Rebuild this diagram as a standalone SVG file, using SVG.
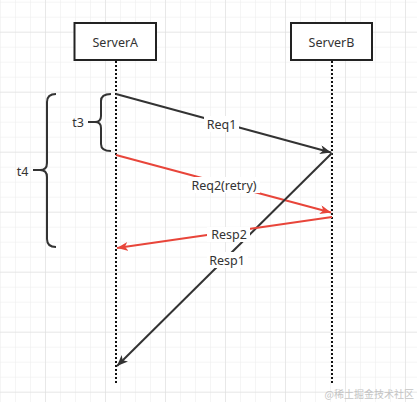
<svg xmlns="http://www.w3.org/2000/svg" width="417" height="402" viewBox="0 0 417 402">
<style>
  .box{fill:#fff;stroke:#222;stroke-width:2}
  .lbl{font-family:"Noto Sans","Liberation Sans",sans-serif;font-size:12.5px;fill:#333;text-anchor:middle;dominant-baseline:central}
  .life{stroke:#111;stroke-width:2;stroke-dasharray:2 2;fill:none}
  .blk{stroke:#333;stroke-width:2;fill:none}
  .red{stroke:#e8453a;stroke-width:2;fill:none}
  .brace{stroke:#333;stroke-width:2;fill:none}
  .bg{fill:#fff}
</style>
<defs>
  <pattern id="minor" width="15" height="15" patternUnits="userSpaceOnUse" x="0" y="1.7">
    <path d="M0,0 H15 M0,0 V15" stroke="#ececec" stroke-width="1" fill="none"/>
  </pattern>
  <pattern id="major" width="60" height="60" patternUnits="userSpaceOnUse" x="45" y="31.7">
    <path d="M0,0 H60 M0,0 V60" stroke="#dcdcdc" stroke-width="1" fill="none"/>
  </pattern>
  <marker id="ahB" markerWidth="12" markerHeight="10" refX="11" refY="4.5" orient="auto" markerUnits="userSpaceOnUse">
    <path d="M0,0 L11,4.5 L0,9 L3,4.5 Z" fill="#333"/>
  </marker>
  <marker id="ahR" markerWidth="12" markerHeight="10" refX="11" refY="4.5" orient="auto" markerUnits="userSpaceOnUse">
    <path d="M0,0 L11,4.5 L0,9 L3,4.5 Z" fill="#e8453a"/>
  </marker>
</defs>
<rect width="417" height="402" fill="#fff"/>
<rect width="417" height="402" fill="url(#minor)"/>
<rect width="417" height="402" fill="url(#major)"/>

<g id="serverA">
  <line class="life" x1="116" y1="61" x2="116" y2="383"/>
  <rect class="box" x="74.5" y="23" width="81.5" height="37"/>
  <text class="lbl" x="115.3" y="42">ServerA</text>
</g>
<g id="serverB">
  <line class="life" x1="332" y1="61" x2="332" y2="383"/>
  <rect class="box" x="291" y="23" width="81" height="37"/>
  <text class="lbl" x="331.5" y="42">ServerB</text>
</g>

<g id="connectors">
  <line class="blk" x1="116" y1="94" x2="331" y2="152.5" marker-end="url(#ahB)"/>
  <line class="red" x1="116" y1="155" x2="331" y2="212.5" marker-end="url(#ahR)"/>
  <line class="blk" x1="332" y1="153" x2="117" y2="366" marker-end="url(#ahB)"/>
  <line class="red" x1="332" y1="217" x2="117" y2="248" marker-end="url(#ahR)"/>
  <rect class="bg" x="204" y="116" width="35" height="16"/>
  <text class="lbl" x="221.5" y="124">Req1</text>
  <rect class="bg" x="188" y="177" width="72" height="16"/>
  <text class="lbl" x="224" y="185">Req2(retry)</text>
  <rect class="bg" x="207" y="227" width="43" height="15"/>
  <text class="lbl" x="229" y="234.5">Resp2</text>
  <rect class="bg" x="207" y="252" width="41" height="16"/>
  <text class="lbl" x="227" y="260">Resp1</text>
</g>

<g id="t3">
  <path class="brace" d="M111,94 Q101,94 101,101 L101,116 Q101,122 95,122 L88,122 M95,122 Q101,122 101,128 L101,144 Q101,151 111,151"/>
  <text class="lbl" x="78" y="122">t3</text>
</g>
<g id="t4">
  <path class="brace" d="M56,94 Q47,94 47,102 L47,163 Q47,170 40,170 L33,170 M40,170 Q47,170 47,177 L47,239 Q47,247 56,247"/>
  <text class="lbl" x="22.5" y="171.5">t4</text>
</g>
<text x="414" y="393" font-family="Noto Sans CJK SC, sans-serif" font-size="10" fill="#c4c4c4" text-anchor="end" dominant-baseline="central">@稀土掘金技术社区</text>
</svg>
